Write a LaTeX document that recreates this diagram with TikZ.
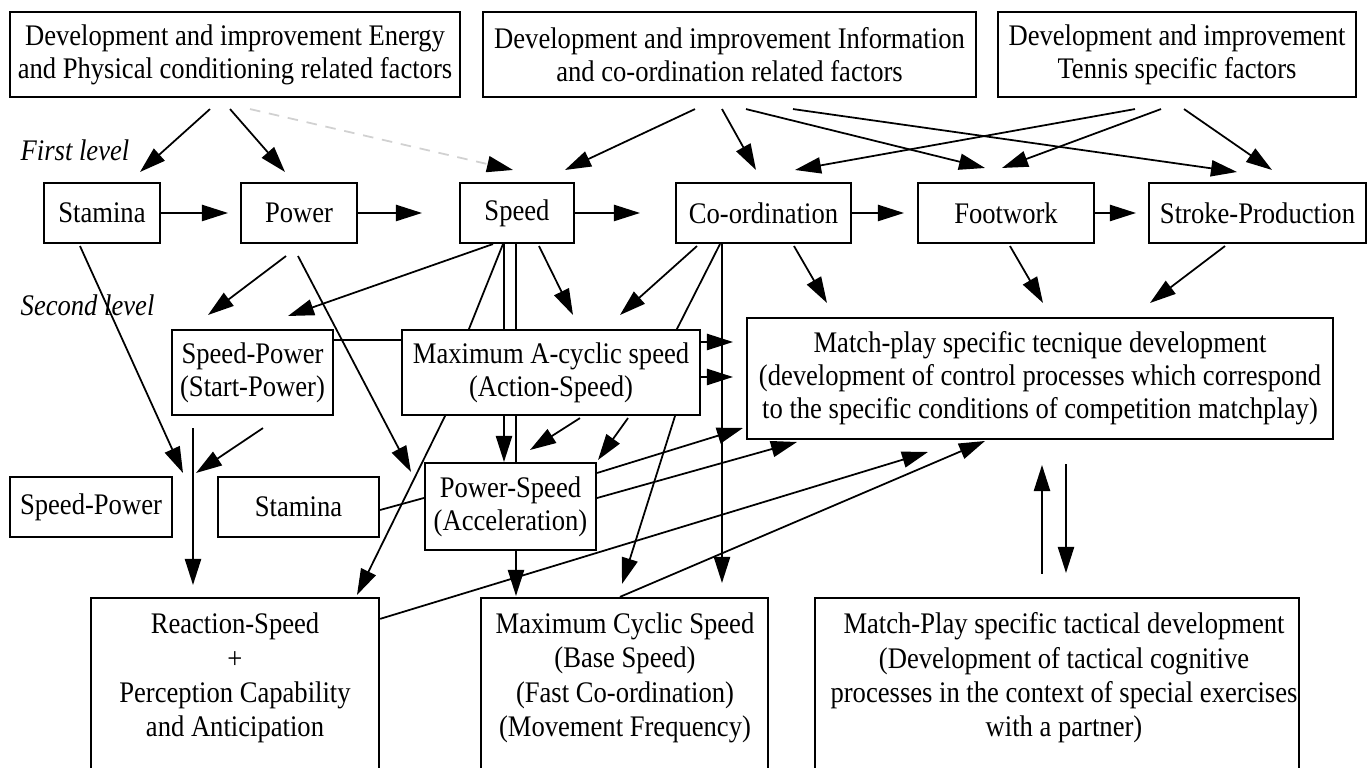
\documentclass[tikz,border=0pt]{standalone}
\usepackage{fontspec}
\setmainfont[FakeStretch=0.89]{Liberation Serif}
\usetikzlibrary{arrows.meta,calc}
\pgfdeclarelayer{bg}
\pgfsetlayers{bg,main}
\begin{document}
\begin{tikzpicture}[x=0.01cm,y=-0.01cm,
  box/.style={draw, fill=white, line width=0.6pt, inner sep=0pt, align=center, font=\fontsize{8.5}{9.4}\selectfont},
  txt/.style={inner sep=0pt, align=center, font=\fontsize{8.5}{9.75}\selectfont},
  lvl/.style={inner sep=0pt, anchor=west, font=\fontsize{8.5}{9.4}\selectfont\itshape},
  arr/.style={line width=0.5pt, -{Triangle[length=7.4pt,width=4.6pt]}},
  ln/.style={line width=0.5pt},
  dsh/.style={line width=0.5pt, draw=black!18, dash pattern=on 3pt off 2.5pt, -{Triangle[length=7.4pt,width=4.6pt,color=black]}}
]
\useasboundingbox (0,0) rectangle (1369,768);

% top level
\node[box, minimum width=4.5cm, minimum height=0.85cm] (E) at (235,54.5) {Development and improvement Energy\\and Physical conditioning related factors};
\node[box, minimum width=4.93cm, minimum height=0.85cm] (I) at (729.5,54.5) {Development and improvement Information\\and co-ordination related factors};
\node[box, minimum width=3.58cm, minimum height=0.85cm] (T) at (1177,54.5) {Development and improvement\\Tennis specific factors};

\node[lvl] (L1) at (20,150) {First level};
\node[lvl] (L2) at (20,305) {Second level};

% first level
\node[box, minimum width=1.16cm, minimum height=0.6cm] (Stamina) at (102,213) {Stamina};
\node[box, minimum width=1.16cm, minimum height=0.6cm] (Power) at (299,213) {Power};
\node[box, minimum width=1.14cm, minimum height=0.6cm] (Speed) at (517,213) {Speed};
\node[box, minimum width=1.75cm, minimum height=0.6cm] (Coord) at (763.5,213) {Co-ordination};
\node[box, minimum width=1.76cm, minimum height=0.6cm] (Footwork) at (1006,213) {Footwork};
\node[box, minimum width=2.17cm, minimum height=0.6cm] (Stroke) at (1257.5,213) {Stroke-Production};

% second level
\node[box, minimum width=1.61cm, minimum height=0.85cm] (SPs) at (252.5,372.5) {Speed-Power\\(Start-Power)};
\node[box, minimum width=2.98cm, minimum height=0.85cm] (MA) at (551,372.5) {Maximum A-cyclic speed\\(Action-Speed)};
\node[box, minimum width=5.86cm, minimum height=1.21cm] (MT) at (1040,378.5) {Match-play specific tecnique development\\(development of control processes which correspond\\to the specific conditions of competition matchplay)};
\node[box, minimum width=1.62cm, minimum height=0.6cm] (SP2) at (91,507) {Speed-Power};
\node[box, minimum width=1.61cm, minimum height=0.6cm] (St2) at (298.5,507) {Stamina};
\node[box, minimum width=1.71cm, minimum height=0.87cm] (PS) at (510.5,506.5) {Power-Speed\\(Acceleration)};

% bottom boxes
\node[box, minimum width=2.88cm, minimum height=2.02cm] (R) at (235,699) {};
\node[box, minimum width=2.87cm, minimum height=2.02cm] (MC) at (624.5,699) {};
\node[box, minimum width=4.84cm, minimum height=2.02cm] (MTac) at (1057,699) {};
\node[txt] (Rt) at (235,678) {Reaction-Speed\\+\\Perception Capability\\and Anticipation};
\node[txt] (MCt) at (625,678) {Maximum Cyclic Speed\\(Base Speed)\\(Fast Co-ordination)\\(Movement Frequency)};
\node[txt] (MTt) at (1064,678) {Match-Play specific tactical development\\(Development of tactical cognitive\\processes in the context of special exercises\\with a partner)};

% arrow tips (free ends)
\coordinate (tE1) at (140,172);
\coordinate (tE2) at (285,172);
\coordinate (tE3) at (513,170);
\coordinate (tI1) at (565,170);
\coordinate (tI2) at (756,170);
\coordinate (tI3) at (985,168);
\coordinate (tI4) at (1237,172);
\coordinate (tT1) at (795,170);
\coordinate (tT2) at (1002,168);
\coordinate (tT3) at (1272,170);
\coordinate (tSP) at (228,213);
\coordinate (tPS) at (422,213);
\coordinate (tSC) at (640,213);
\coordinate (tCF) at (904,213);
\coordinate (tFS) at (1136,213);
\coordinate (ta) at (183,473);
\coordinate (tb) at (208,315);
\coordinate (tc) at (411,472);
\coordinate (td) at (288,316);
\coordinate (te) at (357,595);
\coordinate (tf) at (504,462);
\coordinate (tg) at (516,596);
\coordinate (th) at (573,315);
\coordinate (ti) at (620,315);
\coordinate (tj) at (622,584);
\coordinate (tk) at (722,583);
\coordinate (tl) at (827,303);
\coordinate (tm) at (1043,303);
\coordinate (tn) at (1150,303);
\coordinate (to) at (733,342);
\coordinate (tp) at (733,377);
\coordinate (tq) at (530,450);
\coordinate (tr) at (598,460);
\coordinate (ts) at (193,585);
\coordinate (tt) at (196,473);
\coordinate (tu) at (797,442);
\coordinate (tv) at (743,428);
\coordinate (tw) at (928,452);
\coordinate (tx) at (985,441);
\coordinate (ty1) at (1042,465);
\coordinate (ty2) at (1066,573);

\begin{pgfonlayer}{bg}
\fill[white] (0,0) rectangle (1369,768);
% from top boxes
\draw[arr] ($(E.south)+(-25,11)$) -- (tE1);
\draw[arr] ($(E.south)+(-5,11)$) -- (tE2);
\draw[dsh] ($(E.south)+(15,11)$) -- (tE3);
\draw[arr] ($(I.south)+(-34.5,11)$) -- (tI1);
\draw[arr] ($(I.south)+(-7.5,11)$) -- (tI2);
\draw[arr] ($(I.south)+(16.5,11)$) -- (tI3);
\draw[arr] ($(I.south)+(63.5,11)$) -- (tI4);
\draw[arr] ($(T.south)+(-42,11)$) -- (tT1);
\draw[arr] ($(T.south)+(-16,11)$) -- (tT2);
\draw[arr] ($(T.south)+(7,11)$) -- (tT3);
% first level chain
\draw[arr] (Stamina.east) -- (tSP);
\draw[arr] (Power.east) -- (tPS);
\draw[arr] (Speed.east) -- (tSC);
\draw[arr] (Coord.east) -- (tCF);
\draw[arr] (Footwork.east) -- (tFS);
% second level
\draw[arr] ($(Stamina.south)+(-22,2)$) -- (ta);
\draw[arr] ($(Power.south)+(-13,12)$) -- (tb);
\draw[arr] ($(Power.south)+(-1,12)$) -- (tc);
\draw[arr] ($(Speed.south)+(-24,0)$) -- (td);
\draw[arr] ($(Speed.south)+(-14,0)$) -- ($(MA.north)+(-82,0)$) -- ($(MA.south)+(-106,0)$) -- (te);
\draw[arr] ($(Speed.south)+(-13,0)$) -- (tf);
\draw[arr] ($(Speed.south)+(-1,0)$) -- (tg);
\draw[arr] ($(Speed.south)+(22,2)$) -- (th);
\draw[arr] ($(Coord.south)+(-66.5,2)$) -- (ti);
\draw[arr] ($(Coord.south)+(-43.5,0)$) -- ($(MA.north)+(126,0)$) -- ($(MA.south)+(124,0)$) -- (tj);
\draw[arr] ($(Coord.south)+(-41.5,0)$) -- (tk);
\draw[arr] ($(Coord.south)+(30.5,2)$) -- (tl);
\draw[arr] ($(Footwork.south)+(4,2)$) -- (tm);
\draw[arr] ($(Stroke.south)+(-32.5,2)$) -- (tn);
\draw[arr] ($(SPs.east)+(0,-32.5)$) -- ($(MA.west)+(0,-32.5)$) -- ($(MA.east)+(0,-30.5)$) -- (to);
\draw[arr] ($(MA.east)+(0,4.5)$) -- (tp);
\draw[arr] ($(MA.south)+(29,2)$) -- (tq);
\draw[arr] ($(MA.south)+(77,2)$) -- (tr);
\draw[arr] ($(SPs.south)+(-59.5,12)$) -- (ts);
\draw[arr] ($(SPs.south)+(10.5,12)$) -- (tt);
\draw[arr] ($(St2.east)+(0,3)$) -- ($(PS.west)+(0,-8.5)$) -- ($(PS.east)+(0,-8.5)$) -- (tu);
\draw[arr] ($(PS.east)+(0,-33.5)$) -- (tv);
\draw[arr] ($(R.north east)+(0,22)$) -- (tw);
\draw[arr] ($(MC.north)+(-4.5,0)$) -- (tx);
\draw[arr] ($(MTac.north)+(-15,-23)$) -- (ty1);
\draw[arr] ($(MT.south)+(26,24)$) -- (ty2);
\end{pgfonlayer}
\end{tikzpicture}
\end{document}
